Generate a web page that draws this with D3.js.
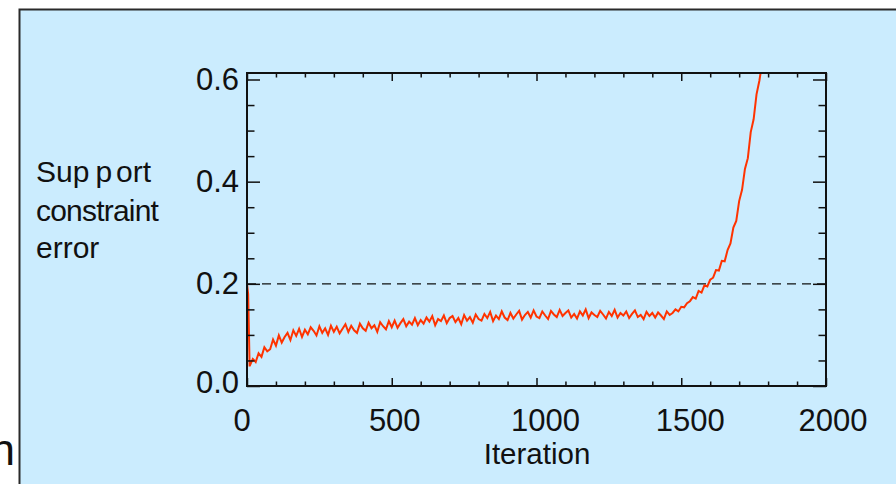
<!DOCTYPE html>
<html>
<head>
<meta charset="utf-8">
<script src="https://cdn.jsdelivr.net/npm/d3@7"></script>
<style>
  html, body { margin: 0; padding: 0; background: #ffffff; }
  svg { display: block; font-family: "Liberation Sans", Arial, sans-serif; }
</style>
</head>
<body>
<svg id="chart" width="896" height="484"></svg>
<script>
// axis ticks and labels
const xMajorTicks = [0, 500, 1000, 1500, 2000];
const xMinorTicks = [100, 200, 300, 400, 600, 700, 800, 900, 1100, 1200, 1300, 1400, 1600, 1700, 1800, 1900];
const yMajorTicks = [0.0, 0.2, 0.4, 0.6];
const yMinorTicks = [0.05, 0.1, 0.15, 0.25, 0.3, 0.35, 0.45, 0.5, 0.55];
const yTickLabels = ['0.0', '0.2', '0.4', '0.6'];
const thresholdValue = 0.2;

// first few iterations (steep drop)
const earlyIterations = [0, 4, 9];
const earlyErrors = [0.200, 0.180, 0.040];

// support constraint error, sampled every 10 iterations from 10 to 1780
const sampleStart = 10, sampleStep = 10;
const sampledErrors = [
  0.040, 0.053, 0.047, 0.064, 0.057, 0.076, 0.068, 0.072, 0.091, 0.079,
  0.099, 0.085, 0.096, 0.104, 0.090, 0.109, 0.098, 0.112, 0.096, 0.110,
  0.101, 0.115, 0.108, 0.099, 0.117, 0.104, 0.113, 0.100, 0.118, 0.106,
  0.116, 0.103, 0.112, 0.121, 0.106, 0.118, 0.109, 0.104, 0.122, 0.113,
  0.108, 0.124, 0.113, 0.119, 0.106, 0.125, 0.117, 0.111, 0.127, 0.115,
  0.128, 0.114, 0.123, 0.131, 0.117, 0.126, 0.120, 0.133, 0.119, 0.129,
  0.122, 0.134, 0.126, 0.137, 0.119, 0.131, 0.127, 0.138, 0.123, 0.133,
  0.137, 0.125, 0.133, 0.121, 0.139, 0.128, 0.135, 0.124, 0.140, 0.131,
  0.128, 0.141, 0.133, 0.145, 0.127, 0.138, 0.131, 0.146, 0.134, 0.129,
  0.143, 0.132, 0.140, 0.147, 0.130, 0.139, 0.145, 0.134, 0.148, 0.136,
  0.133, 0.146, 0.138, 0.131, 0.147, 0.140, 0.135, 0.149, 0.137, 0.143,
  0.148, 0.134, 0.141, 0.132, 0.146, 0.138, 0.150, 0.133, 0.144, 0.139,
  0.135, 0.147, 0.140, 0.132, 0.145, 0.137, 0.149, 0.134, 0.143, 0.138,
  0.146, 0.133, 0.141, 0.148, 0.135, 0.139, 0.131, 0.145, 0.137, 0.143,
  0.134, 0.144, 0.138, 0.131, 0.146, 0.139, 0.143, 0.150, 0.146, 0.155,
  0.154, 0.162, 0.166, 0.174, 0.171, 0.186, 0.183, 0.197, 0.195, 0.208,
  0.212, 0.227, 0.226, 0.245, 0.244, 0.266, 0.279, 0.310, 0.323, 0.362,
  0.384, 0.425, 0.446, 0.497, 0.522, 0.571, 0.598, 0.635
];

const svg = d3.select('#chart');

// layout
const frame = { left: 247, right: 826, top: 73, bottom: 386 };
const x = d3.scaleLinear().domain([0, 2000]).range([frame.left, frame.right]);
const y = d3.scaleLinear().domain([0, 0.6]).range([frame.bottom, 79.5]);

// light blue panel, it runs off the right and bottom of the picture
svg.append('rect')
  .attr('x', 19.5).attr('y', 9.5)
  .attr('width', 900).attr('height', 500)
  .attr('fill', '#cbecfe')
  .attr('stroke', '#2a2a2a').attr('stroke-width', 2);

// cut-off letter left of the panel
svg.append('text')
  .attr('x', -9.5).attr('y', 465)
  .attr('font-size', 44).attr('fill', '#111')
  .text('n');

const points = earlyIterations.map((it, i) => [it, earlyErrors[i]])
  .concat(sampledErrors.map((v, i) => [sampleStart + i * sampleStep, v]));

svg.append('clipPath').attr('id', 'plot-clip')
  .append('rect')
  .attr('x', frame.left).attr('y', frame.top)
  .attr('width', frame.right - frame.left).attr('height', frame.bottom - frame.top);

// dashed threshold
svg.append('line')
  .attr('x1', x(0)).attr('x2', x(2000))
  .attr('y1', y(thresholdValue)).attr('y2', y(thresholdValue))
  .attr('stroke', '#111').attr('stroke-width', 1.3)
  .attr('stroke-dasharray', '9,6');

// error curve
const line = d3.line().x(d => x(d[0])).y(d => y(d[1]));
svg.append('path')
  .datum(points)
  .attr('clip-path', 'url(#plot-clip)')
  .attr('fill', 'none')
  .attr('stroke', '#ff3300')
  .attr('stroke-width', 2)
  .attr('stroke-linejoin', 'miter')
  .attr('d', line);

// inward ticks on all four sides
function ticks(axisFn, scale, values, size, tx, ty) {
  const g = svg.append('g')
    .attr('transform', `translate(${tx},${ty})`)
    .call(axisFn(scale).tickValues(values).tickSize(size).tickSizeOuter(0).tickFormat(''));
  g.select('.domain').remove();
  g.selectAll('line').attr('stroke', '#111').attr('stroke-width', 1.5);
}
ticks(d3.axisBottom, x, xMajorTicks, -8, 0, frame.bottom);
ticks(d3.axisBottom, x, xMinorTicks, -4.5, 0, frame.bottom);
ticks(d3.axisTop, x, xMajorTicks, -8, 0, frame.top);
ticks(d3.axisTop, x, xMinorTicks, -4.5, 0, frame.top);
ticks(d3.axisLeft, y, yMajorTicks, -13, frame.left, 0);
ticks(d3.axisLeft, y, yMinorTicks, -7.5, frame.left, 0);
ticks(d3.axisRight, y, yMajorTicks, -13, frame.right, 0);
ticks(d3.axisRight, y, yMinorTicks, -7.5, frame.right, 0);

// plot frame
svg.append('rect')
  .attr('x', frame.left).attr('y', frame.top)
  .attr('width', frame.right - frame.left).attr('height', frame.bottom - frame.top)
  .attr('fill', 'none').attr('stroke', '#111').attr('stroke-width', 2);

// tick labels (small nudges copied from the original layout)
const xLabelNudge = [-5, 3, 9, 9, 7];
svg.append('g').selectAll('text')
  .data(xMajorTicks)
  .enter().append('text')
  .attr('x', (d, i) => x(d) + xLabelNudge[i])
  .attr('y', 430.5)
  .attr('text-anchor', 'middle')
  .attr('font-size', 31).attr('fill', '#111')
  .text(d => d);

const yLabelNudge = [-4, 0, 0, 0];
svg.append('g').selectAll('text')
  .data(yMajorTicks)
  .enter().append('text')
  .attr('x', 239)
  .attr('y', (d, i) => y(d) + 10.5 + yLabelNudge[i])
  .attr('text-anchor', 'end')
  .attr('font-size', 31).attr('fill', '#111')
  .text((d, i) => yTickLabels[i]);

// axis titles
svg.append('text')
  .attr('x', 537).attr('y', 464)
  .attr('text-anchor', 'middle')
  .attr('font-size', 29.5).attr('fill', '#111')
  .text('Iteration');

const yTitle = svg.append('text')
  .attr('font-size', 30).attr('fill', '#111');
const support = yTitle.append('tspan').attr('x', 36).attr('y', 182);
support.append('tspan').text('Sup');
support.append('tspan').attr('dx', 6).text('p');
support.append('tspan').attr('dx', 4).text('ort');
yTitle.append('tspan').attr('x', 36).attr('y', 221).attr('letter-spacing', -0.8).text('constraint');
yTitle.append('tspan').attr('x', 36).attr('y', 258).text('error');
</script>
</body>
</html>
